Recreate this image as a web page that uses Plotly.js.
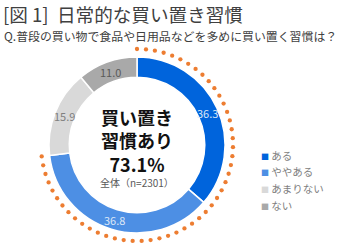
<!DOCTYPE html>
<html><head><meta charset="utf-8">
<script src="https://cdn.plot.ly/plotly-3.0.1.min.js"></script>
<style>html,body{margin:0;padding:0;background:#fff}#chart{width:338px;height:248px}</style>
</head><body><div id="chart"></div>
<script>
const labels = ['ある', 'ややある', 'あまりない', 'ない'];
const values = [36.3, 36.8, 15.9, 11.0];
const sampleN = 2301;
const titleText = '[図 1]  日常的な買い置き習慣';
const subtitleText = 'Q.普段の買い物で食品や日用品などを多めに買い置く習慣は？';
const centerLines = ['買い置き', '習慣あり'];

const W = 338, H = 248;
const cx = 137, cy = 145, R = 88, HOLE = 0.77, dotR = 96;
const colors = ['#0064dc', '#4d8fe4', '#d9d9d9', '#a9a9a9'];
const textColors = ['#dce7f7', '#dce7f7', '#808080', '#5a5a5a'];
const FONT = '"Noto Sans CJK JP", "Noto Sans", sans-serif';

const total = values.reduce((a, b) => a + b, 0);
const havePct = values[0] + values[1];
const arcDeg = havePct / total * 360;
const nDots = Math.round((arcDeg * Math.PI / 180) * dotR / 9) + 1;
const dx = [], dy = [];
for (let i = 0; i < nDots; i++) {
  const a = (arcDeg * i / (nDots - 1)) * Math.PI / 180;
  dx.push(cx + dotR * Math.sin(a));
  dy.push(cy - dotR * Math.cos(a));
}

const pie = {
  type: 'pie', labels: labels, values: values, sort: false, direction: 'clockwise', rotation: 0,
  hole: HOLE,
  marker: {colors: colors, line: {color: '#ffffff', width: 1.5}},
  textinfo: 'none',
  domain: {x: [(cx - R) / W, (cx + R) / W], y: [(H - cy - R) / H, (H - cy + R) / H]},
  showlegend: false, hoverinfo: 'none'
};
const dots = {
  type: 'scatter', mode: 'markers', x: dx, y: dy,
  marker: {color: '#ed7d31', size: 4.3}, showlegend: false, hoverinfo: 'none'
};

const ann = [];
// slice value labels at the middle of each slice, on the ring's mid radius
const midR = R * (1 + HOLE) / 2;
let cum = 0;
values.forEach((v, i) => {
  const a = (cum + v / 2) / total * 2 * Math.PI;
  ann.push({xref: 'x', yref: 'y', x: cx + midR * Math.sin(a), y: cy - midR * Math.cos(a),
    xanchor: 'center', yanchor: 'middle', showarrow: false, text: v.toFixed(1),
    font: {family: FONT, size: 11, color: textColors[i]}});
  cum += v;
});
ann.push({xref: 'paper', yref: 'paper', x: 1 / W, y: 1 - 14 / H, xanchor: 'left', yanchor: 'middle',
  text: titleText, showarrow: false, font: {family: FONT, size: 18.6, color: '#404040'}});
ann.push({xref: 'paper', yref: 'paper', x: 2 / W, y: 1 - 35 / H, xanchor: 'left', yanchor: 'middle',
  text: subtitleText, showarrow: false, font: {family: FONT, size: 11.9, color: '#404040'}});
ann.push({xref: 'paper', yref: 'paper', x: cx / W, y: 1 - 140 / H,
  xanchor: 'center', yanchor: 'middle', showarrow: false, align: 'center',
  text: '<b>' + centerLines[0] + '<br>' + centerLines[1] + '<br>' + havePct.toFixed(1) + '%</b>',
  font: {family: FONT, size: 18, color: '#111111'}});
ann.push({xref: 'paper', yref: 'paper', x: cx / W, y: 1 - 182 / H, xanchor: 'center', yanchor: 'middle',
  text: '全体（n=' + sampleN + '）', showarrow: false, font: {family: FONT, size: 10, color: '#595959'}});
labels.forEach((l, i) => ann.push({xref: 'paper', yref: 'paper', x: 259 / W, y: 1 - (155 + i * 16.7) / H,
  xanchor: 'left', yanchor: 'middle', showarrow: false,
  text: '<span style="color:' + colors[i] + ';font-size:8px">■</span> ' + l,
  font: {family: FONT, size: 10.5, color: '#808080'}}));

const layout = {
  width: W, height: H, margin: {l: 0, r: 0, t: 0, b: 0},
  paper_bgcolor: '#ffffff', plot_bgcolor: 'rgba(0,0,0,0)',
  xaxis: {range: [0, W], visible: false, fixedrange: true},
  yaxis: {range: [H, 0], visible: false, fixedrange: true},
  annotations: ann, showlegend: false
};
Plotly.newPlot('chart', [dots, pie], layout, {displayModeBar: false, staticPlot: true});
</script></body></html>
